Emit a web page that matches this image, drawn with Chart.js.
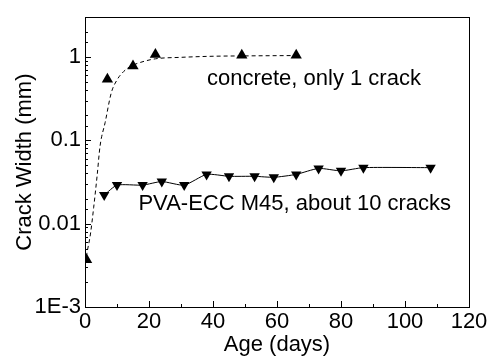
<!DOCTYPE html>
<html><head><meta charset="utf-8">
<script src="https://cdn.jsdelivr.net/npm/chart.js@4/dist/chart.umd.min.js"></script>
<style>html,body{margin:0;padding:0;background:#fff}#wrap{width:490px;height:364px;position:relative}</style>
</head><body><div id="wrap"><canvas id="c"></canvas></div>
<script>
// ---- data ----
const concreteDays  = [0.5, 7, 15, 22, 49, 66];
const concreteWidth = [0.0037, 0.54, 0.78, 1.07, 1.05, 1.05];

const fitDays  = [0.1, 0.6, 1.7, 2.7, 3.8, 4.7, 6.3, 8.2, 10, 12.1, 14.2, 17.3, 22, 30, 40, 50, 66];
const fitWidth = [0.0033, 0.0044, 0.0075, 0.0155, 0.038, 0.085, 0.164, 0.37, 0.53, 0.67, 0.77, 0.86, 0.95, 0.99, 1.02, 1.03, 1.04];

const eccDays  = [6, 10, 18, 24, 31, 38, 45, 53, 59, 66, 73, 80, 87, 108];
const eccWidth = [0.022, 0.029, 0.029, 0.032, 0.029, 0.039, 0.037, 0.037, 0.036, 0.039, 0.046, 0.043, 0.047, 0.047];

const xTickLabels = ['0', '20', '40', '60', '80', '100', '120'];
const yTickLabels = ['1E-3', '0.01', '0.1', '1'];

const notes = [
  {text: 'concrete, only 1 crack', day: 38.1, width: 0.467},
  {text: 'PVA-ECC M45, about 10 cracks', day: 16.7, width: 0.0144}
];

const FONT = "'Liberation Sans', Arial, sans-serif";
const FS = 22;
const pts = (xs, ys) => xs.map((x, i) => ({x, y: ys[i]}));

const isPow10 = v => Math.abs(Math.log10(v) - Math.round(Math.log10(v))) < 1e-6;

const framePlugin = {
  id: 'frame',
  afterDatasetsDraw(chart) {
    const {ctx, chartArea: a, scales: {x, y}} = chart;
    ctx.save();
    ctx.strokeStyle = '#000';
    ctx.lineWidth = 1;
    ctx.strokeRect(Math.round(a.left) + 0.5, Math.round(a.top) + 0.5, Math.round(a.right - a.left), Math.round(a.bottom - a.top));
    ctx.beginPath();
    x.ticks.forEach(t => {
      const px = Math.round(x.getPixelForValue(t.value)) + 0.5;
      const len = (t.value % 20 === 0) ? 6 : 3;
      ctx.moveTo(px, a.bottom); ctx.lineTo(px, a.bottom - len);
    });
    y.ticks.forEach(t => {
      const py = Math.round(y.getPixelForValue(t.value)) + 0.5;
      const len = isPow10(t.value) ? 6 : 3;
      ctx.moveTo(a.left, py); ctx.lineTo(a.left + len, py);
    });
    ctx.stroke();
    ctx.fillStyle = '#000';
    ctx.font = FS + 'px ' + FONT;
    ctx.textBaseline = 'alphabetic';
    ctx.textAlign = 'left';
    notes.forEach(n => ctx.fillText(n.text, x.getPixelForValue(n.day), y.getPixelForValue(n.width)));
    ctx.restore();
  }
};

new Chart(document.getElementById('c'), {
  type: 'line',
  data: {
    datasets: [
      {data: pts(fitDays, fitWidth), borderColor: '#000', borderWidth: 1, borderDash: [4, 3],
       pointRadius: 0, cubicInterpolationMode: 'monotone', fill: false, order: 3},
      {data: pts(eccDays, eccWidth), borderColor: '#000', borderWidth: 1, backgroundColor: '#000',
       pointStyle: 'triangle', rotation: 180, pointRadius: 6, pointBorderWidth: 0, tension: 0.2, fill: false, order: 2},
      {data: pts(concreteDays, concreteWidth), showLine: false, backgroundColor: '#000', borderColor: '#000',
       pointStyle: 'triangle', pointRadius: 6.5, pointBorderWidth: 0, order: 1}
    ]
  },
  options: {
    responsive: true, maintainAspectRatio: false, animation: false,
    layout: {padding: {top: 13, right: 21, left: 0, bottom: 0}},
    plugins: {legend: {display: false}, tooltip: {enabled: false}},
    scales: {
      x: {
        type: 'linear', min: 0, max: 120,
        grid: {display: false, drawTicks: false},
        border: {display: true, color: '#000', width: 1},
        ticks: {stepSize: 10, autoSkip: false, maxRotation: 0, padding: 2, color: '#000', font: {family: FONT, size: FS},
                callback: v => (v % 20 === 0 ? xTickLabels[v / 20] : '')},
        title: {display: true, text: 'Age (days)', color: '#000', font: {family: FONT, size: FS}, padding: {top: 0, bottom: 6}},
        afterFit: s => { s.height = 57; }
      },
      y: {
        type: 'logarithmic', min: 0.001, max: 3,
        grid: {display: false, drawTicks: false},
        border: {display: true, color: '#000', width: 1},
        ticks: {autoSkip: false, padding: 4, color: '#000', font: {family: FONT, size: FS},
                callback: v => (isPow10(v) ? yTickLabels[Math.round(Math.log10(v)) + 3] : '')},
        title: {display: true, text: 'Crack Width (mm)', color: '#000', font: {family: FONT, size: FS}, padding: {top: 12, bottom: 0}},
        afterFit: s => { s.width = 85; }
      }
    }
  },
  plugins: [framePlugin]
});
</script></body></html>
